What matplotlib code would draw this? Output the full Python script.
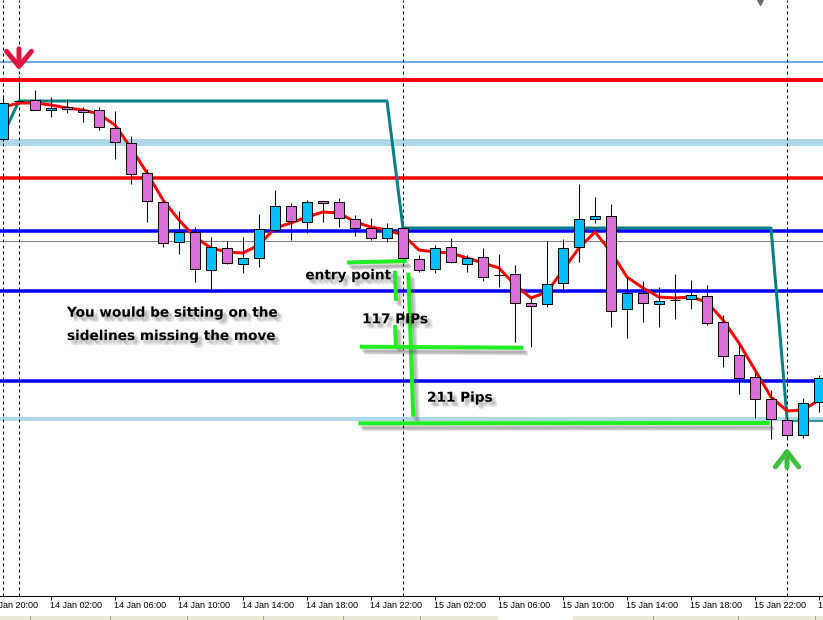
import matplotlib
matplotlib.use('Agg')
import matplotlib.pyplot as plt
import matplotlib.patheffects as pe
from matplotlib.patches import FancyArrowPatch, Rectangle

# ---------------- data (hourly bars, price in chart units) ----------------
opens = [461, 499, 500, 490, 493, 490, 490, 472, 457, 427, 398, 358, 368, 330, 352, 336,
         342, 370, 394, 378, 399, 398, 381, 372, 362, 372, 341, 331, 353, 336, 343, 325,
         326, 297, 296, 317, 353, 381, 384, 291, 307, 296, 300, 301, 304, 278, 245, 223,
         201, 180, 165, 198]
highs = [505, 524, 510, 503, 501, 493, 493, 489, 464, 431, 399, 389, 373, 363, 359, 363,
         386, 410, 397, 400, 399, 402, 385, 382, 377, 372, 345, 355, 362, 345, 352, 346,
         335, 304, 359, 361, 416, 403, 396, 323, 319, 313, 326, 320, 315, 285, 257, 227,
         210, 183, 202, 225]
lows = [459, 496, 490, 483, 487, 478, 470, 441, 416, 378, 353, 346, 318, 310, 336, 327,
        333, 370, 360, 367, 378, 373, 364, 360, 358, 340, 328, 327, 337, 328, 319, 313,
        258, 253, 293, 308, 338, 377, 273, 262, 278, 273, 281, 291, 275, 233, 206, 182,
        161, 163, 162, 188]
closes = [497, 499, 490, 492, 491, 488, 473, 458, 426, 399, 357, 368, 331, 353, 337, 342,
          371, 394, 379, 398, 397, 382, 372, 362, 372, 342, 330, 352, 338, 342, 323, 325,
          297, 294, 316, 352, 381, 384, 289, 307, 297, 299, 300, 305, 277, 244, 222, 201,
          181, 165, 197, 222]
ma_values = [493, 497, 497, 495, 492, 490, 486, 475, 452, 427, 400, 380, 363, 352, 348, 347,
             355, 372, 377, 383, 388, 387, 378, 373, 370, 365, 350, 348, 347, 342, 337, 332,
             315, 302, 308, 330, 352, 368, 348, 323, 312, 303, 302, 303, 298, 280, 257, 230,
             203, 189, 190, 200]

# step indicator (bar index, price)
step_x = [0, 1, 24, 25, 48, 49]
step_p = [465, 499, 499, 372, 372, 182]
step_tail_x = [49, 51.3]
step_tail_p = [179, 179]

# horizontal levels: (price, colour, width px)
levels = [(538, '#3C8CE6', 1.5), (520, '#FF0000', 4), (458, '#ADD8E6', 7),
          (422.5, '#FF0000', 3.5), (369, '#0000FF', 3.5), (359, '#808080', 1),
          (309, '#0000FF', 3.5), (219, '#0000FF', 3.5), (181, '#ADD8E6', 4)]

separators = [0, 1, 25, 49]

tick_idx = [-1, 3, 7, 11, 15, 19, 23, 27, 31, 35, 39, 43, 47, 51]
tick_labels = ["13 Jan 20:00", "14 Jan 02:00", "14 Jan 06:00", "14 Jan 10:00",
               "14 Jan 14:00", "14 Jan 18:00", "14 Jan 22:00", "15 Jan 02:00",
               "15 Jan 06:00", "15 Jan 10:00", "15 Jan 14:00", "15 Jan 18:00",
               "15 Jan 22:00", "16 Jan 02:00"]

# hand-drawn annotation strokes (bar index pairs, price pairs)
green_strokes = [
    ([21.5, 25.23], [337.5, 339]),
    ([24.5, 24.56], [329.3, 299.3]),
    ([24.5, 24.56], [275, 253.3]),
    ([25.33, 25.64], [327.3, 183.3]),
    ([22.31, 32.52], [253.3, 252.3]),
    ([22.21, 47.94], [176.7, 177]),
]
notes = [
    (18.9, 320.7, "entry point"),
    (22.44, 276.7, "117 PIPs"),
    (26.5, 198.3, "211 Pips"),
    (4.0, 283.3, "You would be sitting on the"),
    (4.0, 260.0, "sidelines missing the move"),
]

PX = 0.72  # points per pixel at dpi 100

fig = plt.figure(figsize=(8.23, 6.20), dpi=100)
fig.patch.set_facecolor('white')
ax = fig.add_axes([0, 24 / 620, 1, 596 / 620])
ax.set_xlim(-3 / 16, 820 / 16)
ax.set_ylim(4, 600)
ax.set_facecolor('white')
for s in ['top', 'left', 'right']:
    ax.spines[s].set_visible(False)
ax.spines['bottom'].set_linewidth(1 * PX)
ax.set_yticks([])
ax.set_xticks([t for t in tick_idx if t >= 0])
ax.set_xticklabels([])
ax.tick_params(axis='x', direction='out', length=4 * PX, width=1 * PX, color='black')

for p, c, w in levels:
    ax.axhline(p, color=c, lw=w * PX, zorder=1)

for sx in separators:
    ax.axvline(sx, color='black', lw=1 * PX, ls=(0, (3, 3)), zorder=1.5)

ax.plot(step_x, step_p, color='#008080', lw=3 * PX, zorder=2, solid_joinstyle='round')
ax.plot(step_tail_x, step_tail_p, color='#008080', lw=1.5 * PX, zorder=2)
ax.plot(range(len(ma_values)), ma_values, color='#FF0000', lw=3 * PX, zorder=2.2,
        solid_joinstyle='round')

# candles
idx = list(range(len(opens)))
ax.vlines(idx, lows, highs, color='black', lw=1 * PX, zorder=3)
bottoms = [min(o, c) for o, c in zip(opens, closes)]
heights = [abs(c - o) for o, c in zip(opens, closes)]
colors = ['#00BFFF' if c > o else ('#DA70D6' if c < o else 'black') for o, c in zip(opens, closes)]
ax.bar(idx, heights, bottom=bottoms, width=0.6, color=colors, edgecolor='black',
       linewidth=1 * PX, zorder=3.5)

# time labels
for t, lab in zip(tick_idx, tick_labels):
    ax.annotate(lab, xy=(t, 0), xycoords=('data', 'axes fraction'), xytext=(-1 * PX, -11.5 * PX),
                textcoords='offset points', ha='left', va='baseline', fontsize=6.5,
                family='Liberation Sans', annotation_clip=False)

# arrows
ax.add_patch(FancyArrowPatch((1, 554), (1, 527), arrowstyle='->,head_length=0.9,head_width=0.75',
                             mutation_scale=12, lw=5 * PX, color='#DC143C', zorder=6))
ax.add_patch(FancyArrowPatch((49, 130), (49, 155), arrowstyle='->,head_length=0.9,head_width=0.7',
                             mutation_scale=12, lw=5 * PX, color='#3CC03C', zorder=6))
ax.plot([47.31], [601], marker='v', markersize=9, color='#666666', clip_on=True, zorder=6)

# soft (blurred-looking) shadows
text_shadow = [pe.SimplePatchShadow(offset=(dx, dy), shadow_rgbFace='0.35', alpha=0.10)
               for dx, dy in [(1.5, -2), (2.5, -2.5), (3.5, -3), (2, -3.5), (3, -1.8), (4, -3.8)]]
line_shadow = [pe.SimpleLineShadow(offset=(dx, dy), shadow_color='0.35', alpha=0.18)
               for dx, dy in [(1.5, -2.5), (2.5, -3.5), (3.5, -4)]]

# annotations
for xs, ps in green_strokes:
    ax.plot(xs, ps, color='#22EE22', lw=4 * PX, zorder=7, solid_capstyle='butt',
            path_effects=line_shadow + [pe.Normal()])
for x, p, s in notes:
    ax.text(x, p, s, ha='left', va='baseline', fontsize=9.8, fontweight='bold',
            family='DejaVu Sans', color='black', zorder=8,
            path_effects=text_shadow + [pe.Normal()])

# bottom status strip
fig.patches.append(Rectangle((0, 0), 498 / 823, 4 / 620, transform=fig.transFigure,
                             facecolor='#ECE9D8', edgecolor='none'))
fig.patches.append(Rectangle((573 / 823, 0), 250 / 823, 4 / 620, transform=fig.transFigure,
                             facecolor='#ECE9D8', edgecolor='none'))
for sx in [30, 110, 187, 263, 343, 420, 653, 738, 815]:
    fig.patches.append(Rectangle((sx / 823, 0), 1 / 823, 4 / 620, transform=fig.transFigure,
                                 facecolor='#A0A0A0', edgecolor='none'))

fig.savefig('out.png', dpi=100, facecolor='white')
